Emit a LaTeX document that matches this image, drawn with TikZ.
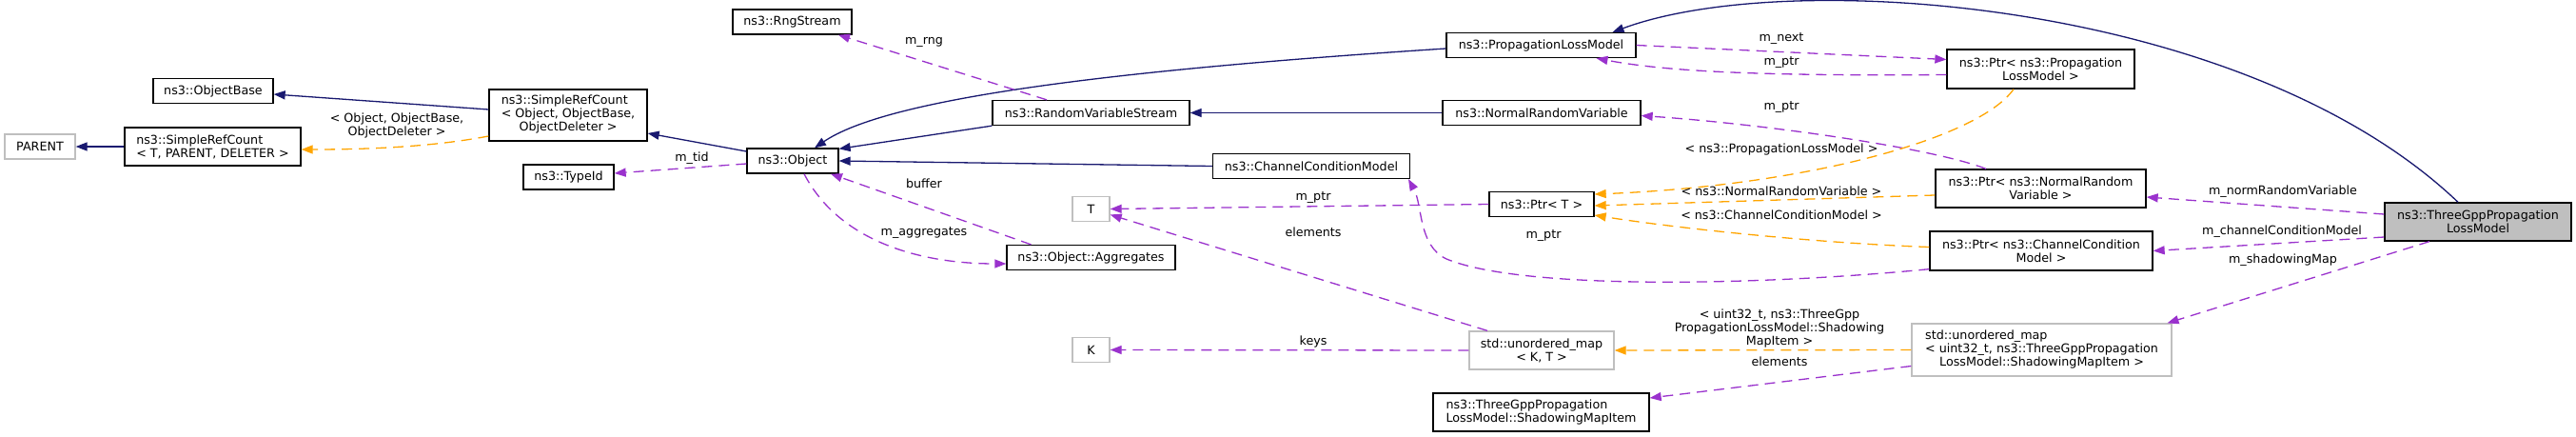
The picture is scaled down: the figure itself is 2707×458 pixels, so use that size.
\documentclass[tikz,border=0pt]{standalone}
\usepackage{fontspec}
\setmainfont{DejaVu Sans}
\usetikzlibrary{arrows.meta}
\definecolor{inhc}{HTML}{191970}
\definecolor{usec}{HTML}{9A32CD}
\definecolor{tplc}{HTML}{FFA500}
\definecolor{grayb}{HTML}{BFBFBF}
\newcommand{\dgfont}{\fontsize{12.7}{14}\selectfont}
\begin{document}
\begin{tikzpicture}[x=1pt,y=-1pt,
  box/.style={draw=black,line width=1.3pt,fill=white,inner sep=0pt,align=center,font=\dgfont},
  gbox/.style={box,draw=grayb},
  hbox/.style={box,fill=grayb},
  lbl/.style={inner sep=0pt,align=center,font=\dgfont},
  inh/.style={draw=inhc,line width=1.3pt,-{Triangle[length=12pt,width=9pt,fill=inhc]}},
  use/.style={draw=usec,line width=1.3pt,dash pattern=on 11pt off 7pt,-{Triangle[length=12pt,width=9pt,fill=usec]}},
  tpl/.style={draw=tplc,line width=1.3pt,dash pattern=on 11pt off 7pt,-{Triangle[length=12pt,width=9pt,fill=tplc]}}
]
\useasboundingbox[fill=white] (0,0) rectangle (2707,458);

% nodes
\node[gbox,minimum width=74,minimum height=26] (parent) at (42,154) {PARENT};
\node[box,minimum width=185,minimum height=40,align=left] (srcT) at (223.5,154) {ns3::SimpleRefCount\\< T, PARENT, DELETER >};
\node[box,minimum width=126,minimum height=26] (objbase) at (224,95.5) {ns3::ObjectBase};
\node[box,minimum width=166,minimum height=54] (srcObj) at (597,121) {\begin{tabular}{@{}l@{}}ns3::SimpleRefCount\\< Object, ObjectBase,\\\multicolumn{1}{@{}c@{}}{ObjectDeleter >}\end{tabular}};
\node[box,minimum width=95,minimum height=26] (typeid) at (597.5,186) {ns3::TypeId};
\node[box,minimum width=125,minimum height=26] (rng) at (832.5,23) {ns3::RngStream};
\node[box,minimum width=96,minimum height=26] (obj) at (833,169) {ns3::Object};
\node[box,minimum width=207,minimum height=26] (rvs) at (1146.5,118.5) {ns3::RandomVariableStream};
\node[box,minimum width=177,minimum height=26] (agg) at (1146.5,270.5) {ns3::Object::Aggregates};
\node[gbox,minimum width=39,minimum height=26] (T) at (1146.5,219.5) {T};
\node[gbox,minimum width=39,minimum height=26] (K) at (1146.5,367.5) {K};
\node[box,minimum width=207,minimum height=26] (ccm) at (1378,174.5) {ns3::ChannelConditionModel};
\node[box,minimum width=199,minimum height=26] (plm) at (1619.5,47.5) {ns3::PropagationLossModel};
\node[box,minimum width=208,minimum height=26] (nrv) at (1620,118.5) {ns3::NormalRandomVariable};
\node[box,minimum width=110,minimum height=26] (ptrT) at (1620,214.5) {ns3::Ptr< T >};
\node[gbox,minimum width=152,minimum height=40] (umapKT) at (1620,368) {std::unordered\_map\\< K, T >};
\node[box,minimum width=227,minimum height=40,align=left] (smi) at (1619.5,433) {ns3::ThreeGppPropagation\\LossModel::ShadowingMapItem};
\node[box,minimum width=197,minimum height=41] (ptrplm) at (2144.5,72.5) {ns3::Ptr< ns3::Propagation\\LossModel >};
\node[box,minimum width=221,minimum height=40] (ptrnrv) at (2144.5,198) {ns3::Ptr< ns3::NormalRandom\\Variable >};
\node[box,minimum width=234,minimum height=41] (ptrccm) at (2145,263.5) {ns3::Ptr< ns3::ChannelCondition\\Model >};
\node[gbox,minimum width=273,minimum height=55] (umap32) at (2145.5,367.5) {\begin{tabular}{@{}l@{}}std::unordered\_map\\< uint32\_t, ns3::ThreeGppPropagation\\\multicolumn{1}{@{}c@{}}{LossModel::ShadowingMapItem >}\end{tabular}};
\node[hbox,minimum width=196,minimum height=40] (tgpp) at (2604,233) {ns3::ThreeGppPropagation\\LossModel};

% inheritance
\draw[inh] (srcT.west) -- (parent.east);
\draw[inh] ([yshift=6pt]srcObj.west) -- ([yshift=-3.5pt]objbase.east);
\draw[inh] ([yshift=10pt]obj.west) -- ([yshift=-19pt]srcObj.east);
\draw[inh] (rvs.south west) -- ([yshift=-1pt]obj.north east);
\draw[inh] ([yshift=-3.5pt]plm.west) .. controls (1150,75) and (930,105) .. ([xshift=23pt]obj.north);
\draw[inh] (ccm.west) -- (obj.east);
\draw[inh] (nrv.west) -- (rvs.east);
\draw[inh] ([xshift=-21pt]tgpp.north) .. controls (2360,0) and (1880,-35) .. ([xshift=75pt]plm.north);

% usage
\draw[use] ([xshift=-46.5pt]rvs.north) -- ([xshift=48.5pt]rng.south);
\draw[use] ([yshift=-3pt]obj.west) -- ([yshift=4pt]typeid.east);
\draw[use] ([xshift=-63pt]agg.north) -- ([xshift=40pt]obj.south);
\draw[use] ([xshift=12pt]obj.south) .. controls (880,250) and (960,277) .. ([yshift=-6.5pt]agg.west);
\draw[use] (plm.east) -- ([yshift=10pt]ptrplm.west);
\draw[use] ([yshift=-6pt]ptrplm.west) .. controls (1850,80) and (1750,75) .. ([xshift=58pt]plm.south);
\draw[use] ([xshift=-57.5pt]ptrnrv.north) .. controls (2030,155) and (1850,130) .. ([yshift=-3pt]nrv.east);
\draw[use] ([yshift=2pt]ptrccm.south west) .. controls (1850,300) and (1600,305) .. (1520,272) .. controls (1490,258) and (1495,215) .. ([xshift=102pt]ccm.south);
\draw[use] (ptrT.west) -- (T.east);
\draw[use] ([xshift=-57pt]umapKT.north) -- ([yshift=-6pt]T.east);
\draw[use] (umapKT.west) -- (K.east);
\draw[use] ([yshift=8pt]tgpp.west) -- ([yshift=-9pt]ptrnrv.east);
\draw[use] ([yshift=-16pt]tgpp.west) -- (ptrccm.east);
\draw[use] ([xshift=-51pt]tgpp.south) -- ([xshift=132pt]umap32.north);
\draw[use] ([yshift=-17pt]umap32.west) -- ([yshift=15pt]smi.east);

% template instances
\draw[tpl] ([yshift=-22pt]srcObj.west) .. controls (450,155) and (380,157) .. ([yshift=-3pt]srcT.east);
\draw[tpl] ([xshift=-28.5pt]ptrplm.south) .. controls (2080,145) and (1900,195) .. ([yshift=10.5pt]ptrT.east);
\draw[tpl] ([yshift=-7pt]ptrnrv.west) -- ([yshift=-1.5pt]ptrT.east);
\draw[tpl] ([yshift=4pt]ptrccm.west) .. controls (1900,255) and (1750,238) .. ([yshift=-11.5pt]ptrT.east);
\draw[tpl] (umap32.west) -- (umapKT.east);

% labels
\node[lbl] (l1) at (417,132) {< Object, ObjectBase,\\ObjectDeleter >};
\node[lbl] (l2) at (971,44) {m\_rng};
\node[lbl] (l3) at (727,166) {m\_tid};
\node[lbl] (l4) at (971,193) {buffer};
\node[lbl] (l5) at (971,245) {m\_aggregates};
\node[lbl] (l6) at (1872,41) {m\_next};
\node[lbl] (l7) at (1872,66) {m\_ptr};
\node[lbl] (l8) at (1872,113) {m\_ptr};
\node[lbl] (l9) at (1872,157) {< ns3::PropagationLossModel >};
\node[lbl] (l10) at (1872,201) {< ns3::NormalRandomVariable >};
\node[lbl] (l11) at (1872,226) {< ns3::ChannelConditionModel >};
\node[lbl] (l12) at (1622,248) {m\_ptr};
\node[lbl] (l13) at (1380,208) {m\_ptr};
\node[lbl] (l14) at (1380,244) {elements};
\node[lbl] (l15) at (1380,359) {keys};
\node[lbl] (l16) at (1870,345) {< uint32\_t, ns3::ThreeGpp\\PropagationLossModel::Shadowing\\MapItem >};
\node[lbl] (l17) at (1870,380) {elements};
\node[lbl] (l18) at (2399,201) {m\_normRandomVariable};
\node[lbl] (l19) at (2398,243) {m\_channelConditionModel};
\node[lbl] (l20) at (2399,273) {m\_shadowingMap};
\end{tikzpicture}
\end{document}
